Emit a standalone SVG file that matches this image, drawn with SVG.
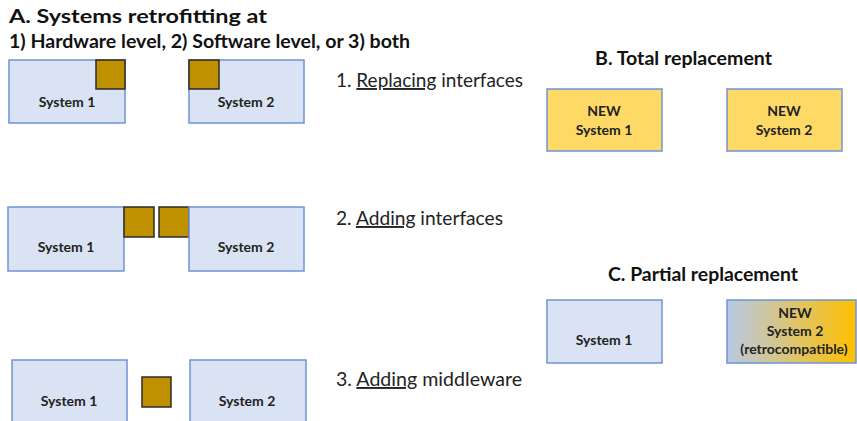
<svg xmlns="http://www.w3.org/2000/svg" width="857" height="421" viewBox="0 0 857 421">
<defs>
<linearGradient id="grad" x1="0" y1="0" x2="1" y2="0">
<stop offset="0" stop-color="#B8C9E6"/>
<stop offset="1" stop-color="#FFC000"/>
</linearGradient>
</defs>
<style>
.sys{fill:#DAE3F3;stroke:#6F93D6;stroke-width:1.5}
.new{fill:#FFD966;stroke:#6F93D6;stroke-width:1.5}
.grad{fill:url(#grad);stroke:#6F93D6;stroke-width:1.5}
.ifc{fill:#BF9000;stroke:#2B2B2B;stroke-width:1.5}
.lbl{font-family:Lato,"Open Sans","Liberation Sans",sans-serif;font-weight:bold;font-size:14px;fill:#222;text-anchor:middle}
.ttl{font-family:Lato,"Open Sans","Liberation Sans",sans-serif;font-weight:bold;font-size:19px;fill:#111}
.step{font-family:Lato,"Open Sans","Liberation Sans",sans-serif;font-size:19px;fill:#222}
</style>
<rect width="857" height="421" fill="#fff"/>
<g id="titles">
<text class="ttl" x="9" y="23" textLength="258" lengthAdjust="spacingAndGlyphs">A. Systems retrofitting at</text>
<text class="ttl" x="9" y="48" textLength="401" lengthAdjust="spacingAndGlyphs">1) Hardware level, 2) Software level, or 3) both</text>
<text class="ttl" x="595" y="65" textLength="177" lengthAdjust="spacingAndGlyphs">B. Total replacement</text>
<text class="ttl" x="608" y="281" textLength="190" lengthAdjust="spacingAndGlyphs">C. Partial replacement</text>
<text class="step" x="336" y="87" textLength="187" lengthAdjust="spacingAndGlyphs">1. <tspan text-decoration="underline">Replacing</tspan> interfaces</text>
<text class="step" x="336" y="225" textLength="167" lengthAdjust="spacingAndGlyphs">2. <tspan text-decoration="underline">Adding</tspan> interfaces</text>
<text class="step" x="336" y="386" textLength="186" lengthAdjust="spacingAndGlyphs">3. <tspan text-decoration="underline">Adding</tspan> middleware</text>
</g>
<g id="row1-system1"><rect class="sys" x="9" y="60" width="116" height="63"/><text class="lbl" x="67" y="107">System 1</text></g>
<g id="row1-interface1"><rect class="ifc" x="96" y="60" width="29" height="29"/></g>
<g id="row1-system2"><rect class="sys" x="189" y="60" width="115" height="63"/><text class="lbl" x="246" y="107">System 2</text></g>
<g id="row1-interface2"><rect class="ifc" x="189" y="60" width="30" height="29"/></g>
<g id="row2-system1"><rect class="sys" x="8" y="207" width="116" height="64"/><text class="lbl" x="66" y="252">System 1</text></g>
<g id="row2-interface1"><rect class="ifc" x="124" y="207" width="30" height="30"/></g>
<g id="row2-interface2"><rect class="ifc" x="159" y="207" width="30" height="30"/></g>
<g id="row2-system2"><rect class="sys" x="189" y="207" width="115" height="64"/><text class="lbl" x="246" y="252">System 2</text></g>
<g id="row3-system1"><rect class="sys" x="12" y="360" width="115" height="70"/><text class="lbl" x="69" y="406">System 1</text></g>
<g id="row3-middleware"><rect class="ifc" x="142" y="377" width="29" height="30"/></g>
<g id="row3-system2"><rect class="sys" x="190" y="360" width="116" height="70"/><text class="lbl" x="247" y="406">System 2</text></g>
<g id="b-new-system1"><rect class="new" x="547" y="89" width="115" height="62"/><text class="lbl" x="604" y="116">NEW</text><text class="lbl" x="604" y="135">System 1</text></g>
<g id="b-new-system2"><rect class="new" x="727" y="89" width="115" height="62"/><text class="lbl" x="784" y="116">NEW</text><text class="lbl" x="784" y="135">System 2</text></g>
<g id="c-system1"><rect class="sys" x="547" y="300" width="115" height="63"/><text class="lbl" x="604" y="345">System 1</text></g>
<g id="c-new-system2"><rect class="grad" x="727" y="300" width="129" height="63"/><text class="lbl" x="795" y="318">NEW</text><text class="lbl" x="795" y="336">System 2</text><text class="lbl" x="794" y="354">(retrocompatible)</text></g>
<g id="connectors"></g>
</svg>
